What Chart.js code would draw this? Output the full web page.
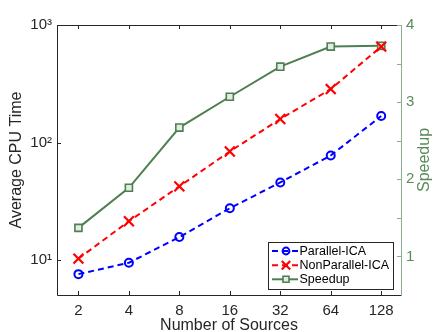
<!DOCTYPE html>
<html><head>
<meta charset="utf-8">
<script src="https://cdn.jsdelivr.net/npm/chart.js@4/dist/chart.umd.min.js"></script>
<style>html,body{margin:0;padding:0;background:#fff;overflow:hidden}</style>
</head><body>
<canvas id="c" width="443" height="332"></canvas>
<script>
// ---- data ----
const sources = [2, 4, 8, 16, 32, 64, 128];
const parallelICA = [7.6, 9.5, 15.7, 27.6, 45.8, 77.6, 168];
const nonParallelICA = [10.3, 21.4, 42.4, 84, 158.6, 285, 655];
const speedup = [1.37, 1.89, 2.67, 3.07, 3.46, 3.72, 3.73];
const cpuTicks = [10, 100, 1000];
const speedupTicks = [1, 2, 3, 4];
const speedupTickMarks = [1, 1.5, 2, 2.5, 3, 3.5, 4];
const seriesNames = ['Parallel-ICA', 'NonParallel-ICA', 'Speedup'];

const FONT = '"Liberation Sans", Arial, Helvetica, sans-serif';
const GREEN = '#4e7f4e';
const GREEN_AXIS = '#8fae8f';
const GREEN_TEXT = '#5a8a5a';
const DARK = '#262626';
const sup = {'0':'⁰','1':'¹','2':'²','3':'³','4':'⁴'};

const pts = arr => arr.map((v, i) => ({x: sources[i], y: v}));

const decor = {
  id: 'decor',
  afterDraw(chart) {
    const {ctx, chartArea: {left, right, top, bottom}, scales: {x, y, y2}} = chart;
    ctx.save();
    ctx.lineWidth = 1;
    ctx.strokeStyle = DARK;
    ctx.beginPath();
    ctx.moveTo(left + 0.5, top); ctx.lineTo(left + 0.5, bottom + 0.5);
    ctx.lineTo(right, bottom + 0.5);
    ctx.moveTo(left, top + 0.5); ctx.lineTo(right, top + 0.5);
    ctx.stroke();
    ctx.beginPath();
    sources.forEach(s => {
      const px = Math.round(x.getPixelForValue(s)) + 0.5;
      ctx.moveTo(px, bottom); ctx.lineTo(px, bottom - 4);
      ctx.moveTo(px, top); ctx.lineTo(px, top + 4);
    });
    cpuTicks.forEach(v => {
      const py = Math.round(y.getPixelForValue(v)) + 0.5;
      ctx.moveTo(left, py); ctx.lineTo(left + 4, py);
    });
    ctx.stroke();
    ctx.strokeStyle = GREEN_AXIS;
    ctx.beginPath();
    ctx.moveTo(right + 0.5, top); ctx.lineTo(right + 0.5, bottom + 1);
    speedupTickMarks.forEach(v => {
      const py = Math.round(y2.getPixelForValue(v)) + 0.5;
      ctx.moveTo(right, py); ctx.lineTo(right - 4, py);
    });
    ctx.stroke();
    ctx.fillStyle = GREEN_TEXT;
    ctx.font = '16px ' + FONT;
    ctx.textAlign = 'center';
    ctx.textBaseline = 'middle';
    ctx.translate(425, (top + bottom) / 2);
    ctx.rotate(-Math.PI / 2);
    ctx.fillText('Speedup', 0, 0);
    ctx.restore();

    // legend
    ctx.save();
    const bx = 268, by = 242, bw = 125, bh = 47;
    ctx.fillStyle = '#fff';
    ctx.fillRect(bx, by, bw, bh);
    ctx.strokeStyle = DARK;
    ctx.lineWidth = 1;
    ctx.strokeRect(bx + 0.5, by + 0.5, bw, bh);
    const rows = [251, 265.3, 279.3];
    chart.data.datasets.forEach((ds, i) => {
      const ry = rows[i];
      ctx.save();
      ctx.strokeStyle = ds.borderColor;
      ctx.lineWidth = ds.borderWidth;
      ctx.setLineDash(ds.borderDash || []);
      ctx.beginPath();
      ctx.moveTo(272, ry); ctx.lineTo(298, ry);
      ctx.stroke();
      ctx.restore();
      ctx.save();
      ctx.fillStyle = ds.pointBackgroundColor;
      ctx.strokeStyle = ds.borderColor;
      ctx.lineWidth = ds.pointBorderWidth;
      Chart.helpers.drawPoint(ctx, {pointStyle: ds.pointStyle, radius: ds.pointRadius * 0.85, rotation: 0, borderWidth: ds.pointBorderWidth}, 286, ry);
      ctx.restore();
      ctx.fillStyle = '#000';
      ctx.font = '12.5px ' + FONT;
      ctx.textAlign = 'left';
      ctx.textBaseline = 'middle';
      ctx.fillText(ds.label, 299.5, ry + 0.5);
    });
    ctx.restore();
  }
};

new Chart(document.getElementById('c'), {
  type: 'line',
  data: {
    datasets: [
      {label: seriesNames[0], data: pts(parallelICA), yAxisID: 'y',
       borderColor: '#0000ff', borderWidth: 2, borderDash: [6, 4],
       pointStyle: 'circle', pointRadius: 4, pointBorderWidth: 2,
       pointBackgroundColor: 'rgba(255,255,255,0)', pointBorderColor: '#0000ff', fill: false},
      {label: seriesNames[1], data: pts(nonParallelICA), yAxisID: 'y',
       borderColor: '#ff0000', borderWidth: 2, borderDash: [6, 4],
       pointStyle: 'crossRot', pointRadius: 7, pointBorderWidth: 2.2,
       pointBackgroundColor: 'rgba(255,255,255,0)', pointBorderColor: '#ff0000', fill: false},
      {label: seriesNames[2], data: pts(speedup), yAxisID: 'y2',
       borderColor: GREEN, borderWidth: 2,
       pointStyle: 'rect', pointRadius: 5, pointBorderWidth: 1.6,
       pointBackgroundColor: '#e3ece3', pointBorderColor: GREEN, fill: false}
    ]
  },
  options: {
    responsive: false,
    animation: false,
    devicePixelRatio: 1,
    layout: {padding: {top: 25, left: 0, right: 0, bottom: 0}},
    plugins: {legend: {display: false}, tooltip: {enabled: false}},
    scales: {
      x: {
        type: 'logarithmic', position: 'bottom', min: 1.49, max: 168,
        grid: {display: false, drawTicks: false}, border: {display: false},
        afterBuildTicks: s => { s.ticks = sources.map(v => ({value: v})); },
        afterFit: s => { s.height = 37; },
        ticks: {autoSkip: false, maxRotation: 0, padding: 7, color: DARK,
                font: {family: FONT, size: 15}, callback: v => String(v)},
        title: {display: true, text: 'Number of Sources', color: DARK,
                font: {family: FONT, size: 16, lineHeight: 1}, padding: {top: 0, bottom: -2}}
      },
      y: {
        type: 'logarithmic', position: 'left', min: 5.05, max: 1000,
        grid: {display: false, drawTicks: false}, border: {display: false},
        afterBuildTicks: s => { s.ticks = cpuTicks.map(v => ({value: v})); },
        afterFit: s => { s.width = 57; },
        ticks: {autoSkip: false, padding: 5, color: DARK,
                font: {family: FONT, size: 15},
                callback: v => '10' + sup[String(Math.round(Math.log10(v)))]},
        title: {display: true, text: 'Average CPU Time', color: DARK,
                font: {family: FONT, size: 16, lineHeight: 1}, padding: {top: 8.5, bottom: 0}}
      },
      y2: {
        type: 'linear', position: 'right', min: 0.5, max: 4,
        grid: {display: false, drawTicks: false}, border: {display: false},
        afterBuildTicks: s => { s.ticks = speedupTicks.map(v => ({value: v})); },
        afterFit: s => { s.width = 42; },
        ticks: {autoSkip: false, padding: 5, color: GREEN_TEXT,
                font: {family: FONT, size: 15}}
      }
    }
  },
  plugins: [decor]
});
</script>
</body></html>
